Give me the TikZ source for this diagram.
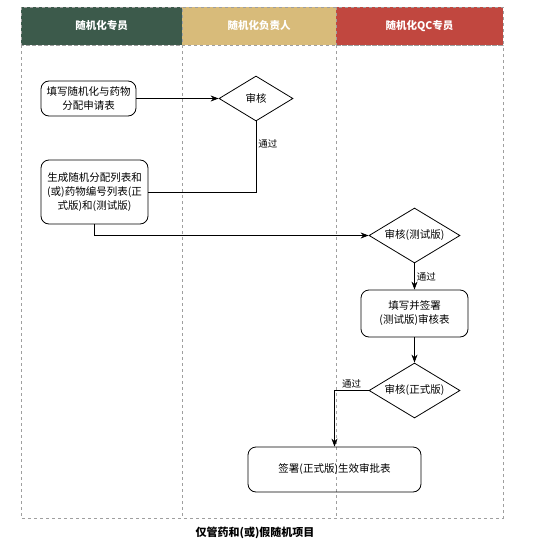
\documentclass[tikz,border=0pt]{standalone}
\usepackage{fontspec}
\setmainfont{Noto Sans CJK SC}
\usetikzlibrary{arrows.meta,shapes.geometric}
\definecolor{laneA}{HTML}{3C5A4B}
\definecolor{laneB}{HTML}{D8BB7A}
\definecolor{laneC}{HTML}{C1473F}

\begin{document}
\begin{tikzpicture}[
  x=1pt,y=-1pt,
  >={Stealth[length=8pt,width=6pt]},
  lanebox/.style={draw=gray!75,dash pattern=on 3pt off 3pt,line width=0.7pt},
  lanehead/.style={lanebox,text=white,minimum height=38pt,inner sep=0pt,font=\bfseries\fontsize{10.5}{12}\selectfont},
  task/.style={draw,line width=0.8pt,rounded corners=8pt,align=center,inner sep=0pt,font=\fontsize{10.5}{14}\selectfont},
  check/.style={draw,line width=0.8pt,diamond,aspect=1.65,inner sep=0pt,font=\fontsize{10.5}{14}\selectfont},
  lbl/.style={inner sep=2pt,font=\fontsize{9.5}{11}\selectfont},
  flow/.style={line width=0.8pt},
]
  \useasboundingbox (0,0) rectangle (535,546);
  % swimlanes
  \foreach \n/\cx/\w/\col/\txt in {A/101.5/161/laneA/随机化专员,B/259/154/laneB/随机化负责人,C/419.5/167/laneC/随机化QC专员}
    \node[lanehead,fill=\col,minimum width=\w pt] (head\n) at (\cx,26) {\txt};
  \draw[lanebox] (21,45) rectangle (503,518);
  \draw[lanebox] (182,45) -- (182,518);
  \draw[lanebox] (336,45) -- (336,518);

  % steps
  \node[task,minimum width=95pt,minimum height=35pt] (req) at (88.5,98.5) {填写随机化与药物\\分配申请表};
  \node[check,minimum width=74pt,minimum height=45pt] (rev1) at (256,98.5) {审核};
  \node[task,minimum width=107pt,minimum height=64pt] (gen) at (94.5,192) {生成随机分配列表和\\(或)药物编号列表(正\\式版)和(测试版)};
  \node[check,minimum width=91pt,minimum height=55pt] (rev2) at (414.5,235.5) {审核(测试版)};
  \node[task,minimum width=107pt,minimum height=47pt] (sign1) at (414.5,313.5) {填写并签署\\(测试版)审核表};
  \node[check,minimum width=91pt,minimum height=55pt] (rev3) at (414.5,390.5) {审核(正式版)};
  \node[task,minimum width=173pt,minimum height=45pt] (final) at (334.5,469.5) {签署(正式版)生效审批表};

  % connectors
  \foreach \a/\b in {req/rev1,sign1/rev3}
    \draw[flow,->] (\a) -- (\b);
  \draw[flow] (rev1.south) |- (gen.east) node[lbl,right,pos=0.16] {通过};
  \draw[flow,->] (gen.south) |- (rev2.west);
  \draw[flow,->] (rev2) -- (sign1) node[lbl,right,midway] {通过};
  \draw[flow,->] (rev3.west) -| (final.north) node[lbl,above,pos=0.25] {通过};

  \node[font=\bfseries\fontsize{11}{13}\selectfont] (title) at (255,533) {仅管药和(或)假随机项目};
\end{tikzpicture}
\end{document}
